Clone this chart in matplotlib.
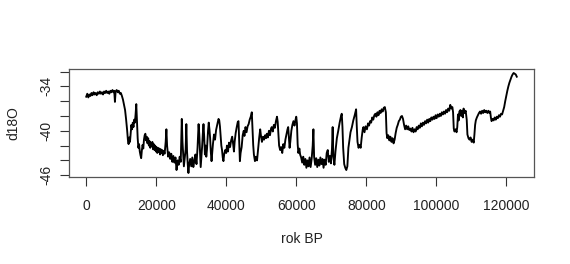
import matplotlib
matplotlib.use("Agg")
import matplotlib.pyplot as plt

plt.rcParams['font.family'] = ['Liberation Sans', 'DejaVu Sans']

# ---- data ----
years = [
    0, 300, 600, 900, 1200, 1500, 1800, 2100, 2400, 2700, 3000, 3300, 3600, 3900, 4200, 4500, 4800,
    5100, 5400, 5700, 6000, 6300, 6600, 6900, 7200, 7500, 7800, 8000, 8200, 8400, 8700, 9000, 9300,
    9600, 9900, 10200, 10500, 10800, 11100, 11400, 11700, 11900, 12100, 12300, 12500, 12700, 12900,
    13100, 13300, 13500, 13700, 13900, 14100, 14300, 14500, 14700, 14900, 15100, 15300, 15500, 15700,
    15900, 16100, 16300, 16500, 16700, 16900, 17100, 17300, 17500, 17700, 17900, 18100, 18300, 18500,
    18700, 18900, 19100, 19300, 19500, 19700, 19900, 20100, 20300, 20500, 20700, 20900, 21100, 21300,
    21500, 21700, 21900, 22100, 22400, 22700, 22900, 23100, 23400, 23700, 24000, 24300, 24600, 24900,
    25200, 25500, 25800, 26100, 26400, 26700, 27000, 27300, 27500, 27700, 27900, 28100, 28400, 28600,
    28800, 29000, 29200, 29400, 29700, 30000, 30300, 30600, 30900, 31200, 31500, 31800, 32100, 32300,
    32500, 32700, 32900, 33100, 33300, 33500, 33700, 33900, 34100, 34300, 34500, 34800, 35000, 35200,
    35400, 35600, 35800, 36000, 36200, 36500, 36800, 37100, 37400, 37600, 37800, 38000, 38200, 38400,
    38600, 38800, 39000, 39200, 39400, 39700, 40000, 40200, 40500, 40800, 41100, 41400, 41700, 42000,
    42200, 42400, 42700, 43000, 43300, 43500, 43700, 43900, 44100, 44400, 44700, 45000, 45200, 45500,
    45800, 46100, 46400, 46700, 47000, 47300, 47500, 47700, 47900, 48200, 48500, 48800, 49100, 49400,
    49700, 49900, 50200, 50500, 50800, 51100, 51400, 51600, 51900, 52200, 52500, 52800, 53000, 53300,
    53600, 53900, 54200, 54500, 54700, 54900, 55100, 55400, 55700, 56000, 56300, 56600, 56900, 57200,
    57500, 57700, 57900, 58100, 58300, 58600, 58900, 59200, 59500, 59800, 60000, 60200, 60400, 60600,
    60900, 61100, 61400, 61700, 62000, 62300, 62600, 62900, 63200, 63500, 63800, 64100, 64400, 64700,
    64900, 65100, 65400, 65700, 66000, 66300, 66600, 66900, 67200, 67500, 67800, 68100, 68400, 68700,
    69000, 69300, 69600, 69900, 70200, 70400, 70600, 70900, 71200, 71600, 72000, 72400, 72800, 73000,
    73200, 73400, 73700, 74000, 74300, 74600, 74900, 75200, 75500, 75900, 76300, 76700, 77100, 77300,
    77500, 77800, 78100, 78400, 78700, 79000, 79200, 79500, 79800, 80200, 80500, 80800, 81100, 81400,
    81700, 82000, 82300, 82600, 82900, 83200, 83500, 83800, 84100, 84400, 84700, 85000, 85300, 85600,
    85800, 86000, 86300, 86600, 86900, 87200, 87500, 87800, 88100, 88400, 88700, 89000, 89300, 89600,
    89900, 90200, 90500, 90800, 91100, 91400, 91700, 92000, 92300, 92600, 92900, 93200, 93500, 93800,
    94100, 94400, 94700, 95000, 95300, 95600, 95900, 96200, 96500, 96800, 97100, 97400, 97700, 98000,
    98300, 98600, 98900, 99200, 99500, 99800, 100100, 100400, 100700, 101000, 101300, 101600, 101900,
    102200, 102500, 102800, 103100, 103400, 103700, 104000, 104300, 104600, 104800, 105000, 105200,
    105500, 105800, 106000, 106200, 106400, 106600, 106900, 107100, 107300, 107600, 107800, 108100,
    108400, 108700, 108900, 109200, 109500, 109800, 110100, 110400, 110700, 110900, 111100, 111300,
    111600, 111900, 112200, 112500, 112800, 113100, 113400, 113700, 114000, 114300, 114600, 114900,
    115200, 115400, 115600, 115800, 116100, 116400, 116700, 117000, 117300, 117600, 117900, 118200,
    118500, 118800, 119100, 119400, 119700, 120000, 120300, 120600, 120900, 121200, 121500, 121800,
    122100, 122400, 122700, 123000,
]
d18o = [
    -35.4, -35.0, -35.5, -35.1, -35.3, -34.9, -35.2, -34.8, -35.1, -34.9, -35.2, -34.8, -35.0, -34.7, -35.0, -34.8, -35.1,
    -34.7, -34.9, -34.6, -34.9, -34.7, -35.0, -34.6, -34.8, -34.5, -34.8, -34.6, -36.1, -34.7, -34.5, -34.8, -34.6,
    -35.0, -34.9, -35.3, -35.8, -36.5, -37.2, -38.5, -40.0, -41.2, -41.8, -40.9, -41.5, -40.3, -39.2,
    -39.8, -38.9, -39.5, -38.5, -38.9, -37.8, -36.4, -38.6, -41.0, -42.3, -41.8, -42.8, -43.3, -43.7,
    -42.6, -41.9, -42.4, -41.2, -40.6, -40.4, -41.3, -40.8, -41.7, -41.0, -42.0, -41.4, -42.3, -41.6,
    -42.1, -41.5, -42.5, -41.8, -42.6, -42.0, -42.8, -42.2, -43.0, -42.3, -42.9, -42.4, -43.2, -42.5,
    -43.0, -42.6, -43.3, -42.7, -43.1, -41.5, -39.8, -42.0, -43.5, -42.9, -43.8, -43.1, -44.2, -43.4,
    -44.3, -43.6, -45.3, -44.0, -44.6, -43.5, -44.2, -38.4, -41.5, -43.2, -44.8, -43.9, -42.5, -39.1,
    -42.8, -44.5, -45.7, -44.6, -43.8, -44.8, -43.6, -44.9, -44.0, -43.2, -44.5, -42.3, -39.1, -40.5,
    -42.8, -44.9, -43.6, -42.2, -40.5, -39.1, -40.8, -43.2, -42.0, -43.5, -42.5, -40.0, -38.9, -39.8,
    -41.0, -42.9, -44.1, -43.0, -41.8, -40.5, -41.2, -39.9, -39.2, -38.8, -38.4, -38.6, -39.4, -40.8,
    -42.0, -42.6, -43.6, -44.1, -43.2, -42.6, -43.0, -42.0, -42.8, -41.6, -42.2, -41.3, -40.8, -41.9,
    -42.8, -41.5, -40.3, -39.5, -38.8, -38.7, -41.5, -44.1, -43.0, -42.2, -40.6, -40.0, -40.7, -39.5,
    -40.2, -39.4, -39.1, -38.5, -38.1, -37.5, -39.8, -41.9, -43.2, -44.1, -43.5, -44.0, -42.5, -41.0,
    -39.8, -40.6, -41.5, -40.8, -41.2, -40.6, -41.0, -40.4, -40.9, -40.0, -40.6, -39.7, -39.5, -40.1,
    -39.2, -39.6, -38.7, -38.1, -38.8, -40.5, -42.0, -42.6, -42.2, -43.0, -41.8, -42.3, -41.2, -40.5,
    -39.8, -39.5, -40.8, -42.3, -41.5, -40.0, -39.2, -38.7, -39.3, -38.5, -38.1, -39.0, -41.8, -43.0,
    -42.4, -43.2, -43.6, -44.3, -43.5, -44.6, -43.8, -45.0, -44.0, -44.8, -43.6, -44.9, -43.8, -42.0,
    -39.8, -43.5, -44.6, -43.7, -44.9, -43.9, -44.7, -43.6, -44.5, -43.8, -45.0, -43.9, -44.6, -43.0,
    -42.6, -44.2, -43.4, -44.4, -42.5, -39.5, -43.5, -44.6, -42.8, -41.0, -40.0, -38.9, -38.0, -37.7,
    -39.5, -42.3, -44.5, -45.0, -45.3, -44.8, -42.3, -41.3, -40.2, -39.5, -38.6, -37.9, -37.1, -39.5,
    -41.5, -42.3, -41.9, -42.3, -40.9, -39.8, -39.5, -40.2, -39.4, -39.8, -39.0, -39.3, -38.7, -38.9,
    -38.2, -38.5, -37.9, -37.7, -38.1, -37.5, -37.9, -37.3, -37.6, -37.1, -37.4, -36.9, -36.8, -37.5,
    -40.3, -41.0, -40.6, -41.3, -40.8, -41.5, -41.0, -41.7, -41.2, -40.3, -39.6, -39.2, -38.7, -38.5,
    -38.1, -38.0, -38.4, -39.2, -39.8, -39.3, -39.8, -39.4, -39.9, -39.7, -40.1, -39.6, -40.2, -39.8,
    -40.1, -39.5, -39.8, -39.3, -39.6, -39.0, -39.4, -38.9, -39.2, -38.7, -39.0, -38.5, -38.9, -38.4,
    -38.7, -38.2, -38.5, -38.1, -38.4, -37.9, -38.3, -37.8, -38.1, -37.7, -38.0, -37.5, -37.8,
    -37.4, -37.7, -37.2, -37.5, -37.0, -37.3, -36.5, -37.0, -36.8, -37.5, -39.7, -40.1,
    -39.8, -40.2, -39.5, -37.8, -38.6, -37.4, -37.2, -38.0, -37.3, -38.2, -37.0, -37.6,
    -37.3, -38.5, -40.5, -41.0, -41.2, -40.9, -41.5, -41.2, -41.6, -40.5, -39.2, -38.6,
    -38.2, -37.9, -37.6, -37.4, -37.7, -37.3, -37.6, -37.2, -37.5, -37.3, -37.6, -37.3,
    -37.6, -37.4, -38.2, -38.7, -38.4, -38.6, -38.2, -38.5, -38.1, -38.3, -37.9, -38.1,
    -37.7, -37.8, -37.3, -36.8, -36.0, -35.3, -34.6, -34.0, -33.5, -33.1, -32.7, -32.4,
    -32.2, -32.3, -32.4, -32.7,
]
x_ticks = [0, 20000, 40000, 60000, 80000, 100000, 120000]
y_ticks = [-46, -44, -42, -40, -38, -36, -34, -32]
y_tick_labels = ['-46', '', '', '-40', '', '', '-34', '']
x_label = "rok BP"
y_label = "d18O"

W, H = 570, 264
fig = plt.figure(figsize=(W / 100, H / 100), dpi=100)
ax = fig.add_axes([69 / W, 1 - 177 / H, (534 - 69) / W, (177 - 69) / H])

ax.plot(years, d18o, color='black', lw=1.35)

xr = max(years) - min(years)
yr = max(d18o) - min(d18o)
ax.set_xlim(min(years) - 0.04 * xr, max(years) + 0.04 * xr)
ax.set_ylim(min(d18o) - 0.04 * yr, max(d18o) + 0.04 * yr)

ax.set_xticks(x_ticks)
ax.set_xticklabels([str(t) for t in x_ticks])
ax.set_yticks(y_ticks)
ax.set_yticklabels(y_tick_labels, rotation=90, va='center')

ax.tick_params(axis='x', direction='out', length=6.5, width=0.8, color='#333333',
               labelsize=10, pad=9, labelcolor='#222222')
ax.tick_params(axis='y', direction='out', length=6.5, width=0.8, color='#333333',
               labelsize=10, pad=5, labelcolor='#222222')
for s in ax.spines.values():
    s.set_color('#555555')
    s.set_linewidth(0.9)

fig.text((69 + 534) / 2 / W, 1 - 239 / H, x_label, ha='center', va='center',
         fontsize=10, color='#222222')
fig.text(13 / W, 1 - 123 / H, y_label, ha='center', va='center', rotation=90,
         fontsize=10, color='#222222')

fig.savefig('out.png', dpi=100, facecolor='white')
